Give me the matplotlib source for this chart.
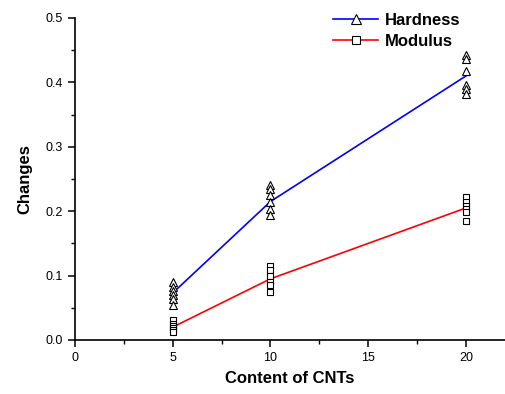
import matplotlib
matplotlib.use("Agg")
import matplotlib.pyplot as plt
from matplotlib.ticker import MultipleLocator

plt.rcParams['font.family'] = ['Liberation Sans', 'DejaVu Sans']

# content of CNTs
cnt = [5, 10, 20]

# individual measurements (6 per content)
hardness_pts = [
    [0.090, 0.082, 0.076, 0.070, 0.063, 0.055],
    [0.241, 0.235, 0.225, 0.214, 0.204, 0.194],
    [0.443, 0.437, 0.418, 0.396, 0.390, 0.382],
]
modulus_pts = [
    [0.031, 0.025, 0.021, 0.018, 0.015, 0.012],
    [0.115, 0.108, 0.100, 0.090, 0.085, 0.074],
    [0.222, 0.215, 0.208, 0.203, 0.198, 0.185],
]

# mean lines
hardness_mean = [0.073, 0.215, 0.410]
modulus_mean = [0.020, 0.095, 0.205]

fig = plt.figure(figsize=(5.05, 3.94), dpi=100)
ax = fig.add_axes([75 / 505, 54 / 394, 430 / 505, 322 / 394])

for x, ys in zip(cnt, hardness_pts):
    ax.plot([x] * len(ys), ys, linestyle='none', marker='^', markersize=6,
            markerfacecolor='white', markeredgecolor='black', markeredgewidth=0.8, zorder=3)
for x, ys in zip(cnt, modulus_pts):
    ax.plot([x] * len(ys), ys, linestyle='none', marker='s', markersize=4.5,
            markerfacecolor='white', markeredgecolor='black', markeredgewidth=0.8, zorder=3)

ax.plot(cnt, hardness_mean, color='blue', lw=1.2, zorder=2)
ax.plot(cnt, modulus_mean, color='red', lw=1.2, zorder=2)

# legend proxies
h1, = ax.plot([], [], color='blue', lw=1.2, marker='^', markersize=7,
              markerfacecolor='white', markeredgecolor='black', markeredgewidth=0.8, label='Hardness')
h2, = ax.plot([], [], color='red', lw=1.2, marker='s', markersize=5.5,
              markerfacecolor='white', markeredgecolor='black', markeredgewidth=0.8, label='Modulus')
leg = fig.legend(handles=[h1, h2], loc='upper left', bbox_to_anchor=(318 / 505, 1.005),
                 frameon=False, prop={'weight': 'bold', 'size': 12},
                 handlelength=2.7, handletextpad=0.4, labelspacing=0.35)

ax.set_xlim(0, 22)
ax.set_ylim(0, 0.5)
ax.xaxis.set_major_locator(MultipleLocator(5))
ax.xaxis.set_minor_locator(MultipleLocator(2.5))
ax.yaxis.set_major_locator(MultipleLocator(0.1))
ax.yaxis.set_minor_locator(MultipleLocator(0.05))
ax.yaxis.set_major_formatter(matplotlib.ticker.FormatStrFormatter('%.1f'))

ax.spines['top'].set_visible(False)
ax.spines['right'].set_visible(False)
ax.spines['left'].set_linewidth(1.2)
ax.spines['bottom'].set_linewidth(1.2)
ax.tick_params(which='major', direction='out', length=5, width=1.1, labelsize=9)
ax.tick_params(which='minor', direction='out', length=3, width=1.0)

ax.set_xlabel('Content of CNTs', fontsize=12, fontweight='bold', labelpad=5)
ax.set_ylabel('Changes', fontsize=12, fontweight='bold', labelpad=10)

fig.savefig('out.png', dpi=100)
